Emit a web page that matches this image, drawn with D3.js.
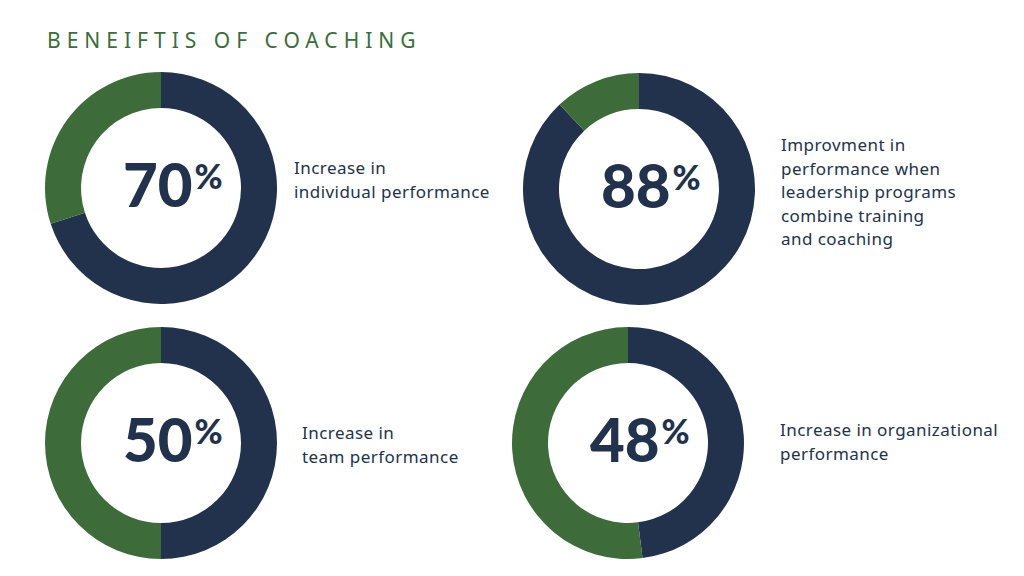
<!DOCTYPE html>
<html>
<head>
<meta charset="utf-8">
<script src="https://cdn.jsdelivr.net/npm/d3@7"></script>
<style>
  html, body { margin: 0; padding: 0; background: #ffffff; }
  svg { display: block; }
</style>
</head>
<body>
<svg id="chart" width="1024" height="576"></svg>
<script>
// ---- data ----
const title = "BENEIFTIS OF COACHING";
const percentages = [70, 88, 50, 48];
const descriptions = [
  ["Increase in", "individual performance"],
  ["Improvment in", "performance when", "leadership programs", "combine training", "and coaching"],
  ["Increase in", "team performance"],
  ["Increase in organizational", "performance"]
];

// ---- layout ----
const navy = "#22324c";
const green = "#3d6b3a";
const layout = [
  { cx: 161, cy: 188, lx: 294, ly: 174 },
  { cx: 639, cy: 189, lx: 781, ly: 151 },
  { cx: 161, cy: 443, lx: 302, ly: 439 },
  { cx: 628, cy: 443, lx: 780, ly: 436 }
];
const lineH = 23.6;

const svg = d3.select("#chart");

svg.append("text")
  .attr("x", 47).attr("y", 47.5)
  .attr("font-family", "Noto Sans, sans-serif")
  .attr("font-size", 21)
  .attr("letter-spacing", 6)
  .attr("fill", "#3b6d3d")
  .text(title);

const pie = d3.pie().sort(null).value(d => d);
const arc = d3.arc().innerRadius(80).outerRadius(116);

percentages.forEach((p, i) => {
  const L = layout[i];
  const g = svg.append("g").attr("transform", `translate(${L.cx},${L.cy})`);
  g.selectAll("path")
    .data(pie([p, 100 - p]))
    .join("path")
    .attr("d", arc)
    .attr("fill", (d, j) => j === 0 ? navy : green);

  const num = g.append("text")
    .attr("x", -38).attr("y", 19)
    .attr("font-family", "Lato, sans-serif")
    .attr("font-weight", 900)
    .attr("font-size", 60)
    .attr("fill", navy)
    .text(String(p));
  const w = num.node().getComputedTextLength();
  g.append("text")
    .attr("x", -38 + w + 2).attr("y", 1)
    .attr("font-family", "Lato, sans-serif")
    .attr("font-weight", 900)
    .attr("font-size", 34)
    .attr("fill", navy)
    .text("%");

  svg.append("g")
    .selectAll("text")
    .data(descriptions[i])
    .join("text")
    .attr("x", L.lx)
    .attr("y", (d, k) => L.ly + k * lineH)
    .attr("font-family", "Noto Sans, sans-serif")
    .attr("font-size", 17)
    .attr("letter-spacing", 0.45)
    .attr("fill", navy)
    .text(d => d);
});
</script>
</body>
</html>
